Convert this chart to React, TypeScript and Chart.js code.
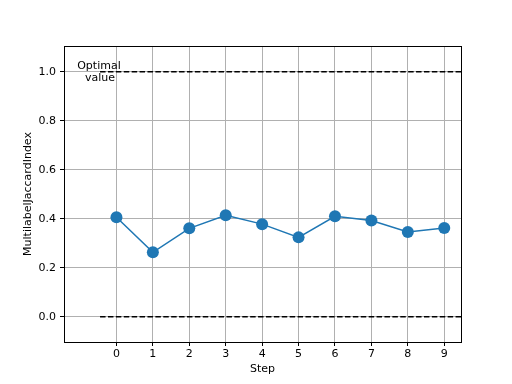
import React, { useEffect, useRef } from "react";
import { Chart, registerables } from "chart.js";

Chart.register(...registerables);

const steps = [0, 1, 2, 3, 4, 5, 6, 7, 8, 9];
const jaccard = [0.406, 0.263, 0.361, 0.414, 0.378, 0.324, 0.41, 0.393, 0.346, 0.362];
const yTicks = [0.0, 0.2, 0.4, 0.6, 0.8, 1.0];
const optimalValue = 1.0;
const baselineValue = 0.0;
const refLineStart = -0.45;
const refLineEnd = 9.6;
const optimalLabel = ["Optimal", "value"];
const xTitle = "Step";
const yTitle = "MultilabelJaccardIndex";

const FONT = "'DejaVu Sans', sans-serif";

export default function App() {
  const ref = useRef<HTMLCanvasElement | null>(null);

  useEffect(() => {
    if (!ref.current) return;
    const framePlugin = {
      id: "frame",
      afterDraw(chart: any) {
        const { ctx, chartArea: a } = chart;
        ctx.save();
        ctx.strokeStyle = "#000";
        ctx.lineWidth = 1;
        ctx.strokeRect(Math.round(a.left) + 0.5, Math.round(a.top) + 0.5, Math.round(a.right - a.left), Math.round(a.bottom - a.top));
        const xs = chart.scales.x;
        const ys = chart.scales.y;
        const px = xs.getPixelForValue(refLineStart - 0.03);
        const py = ys.getPixelForValue(optimalValue);
        ctx.fillStyle = "#000";
        ctx.font = `11px ${FONT}`;
        ctx.textAlign = "center";
        ctx.textBaseline = "middle";
        ctx.fillText(optimalLabel[0], px, py - 6);
        ctx.fillText(optimalLabel[1], px + 1, py + 6);
        ctx.restore();
      },
    };

    const chart = new Chart(ref.current, {
      type: "line",
      data: {
        datasets: [
          {
            data: [
              { x: refLineStart, y: optimalValue },
              { x: refLineEnd, y: optimalValue },
            ],
            borderColor: "#000",
            borderWidth: 1.5,
            borderDash: [5.5, 2.4],
            pointRadius: 0,
            order: 2,
          },
          {
            data: [
              { x: refLineStart, y: baselineValue },
              { x: refLineEnd, y: baselineValue },
            ],
            borderColor: "#000",
            borderWidth: 1.5,
            borderDash: [5.5, 2.4],
            pointRadius: 0,
            order: 2,
          },
          {
            data: steps.map((s, i) => ({ x: s, y: jaccard[i] })),
            borderColor: "#1f77b4",
            backgroundColor: "#1f77b4",
            borderWidth: 1.5,
            pointRadius: 6,
            pointBorderWidth: 0,
            pointBackgroundColor: "#1f77b4",
            order: 1,
          },
        ],
      },
      options: {
        responsive: false,
        animation: false,
        layout: { padding: { top: 46, right: 51, left: 0, bottom: 0 } },
        plugins: { legend: { display: false }, tooltip: { enabled: false } },
        scales: {
          x: {
            type: "linear",
            min: -1.44,
            max: 9.46,
            afterBuildTicks: (s: any) => {
              s.ticks = steps.map((v) => ({ value: v }));
            },
            afterFit: (s: any) => {
              s.height = 42;
            },
            grid: { color: "#b0b0b0", lineWidth: 1, tickColor: "#000", tickLength: 4, drawTicks: true },
            border: { display: false },
            ticks: {
              color: "#000",
              font: { family: FONT, size: 11 },
              padding: 2,
              maxRotation: 0,
              callback: (v: any) => String(v),
            },
            title: {
              display: true,
              text: xTitle,
              color: "#000",
              font: { family: FONT, size: 11 },
              padding: { top: 0, bottom: 8 },
            },
          },
          y: {
            type: "linear",
            min: -0.103,
            max: 1.105,
            afterBuildTicks: (s: any) => {
              s.ticks = yTicks.map((v) => ({ value: v }));
            },
            afterFit: (s: any) => {
              s.width = 64;
            },
            grid: { color: "#b0b0b0", lineWidth: 1, tickColor: "#000", tickLength: 4, drawTicks: true },
            border: { display: false },
            ticks: {
              color: "#000",
              font: { family: FONT, size: 11 },
              padding: 4,
              callback: (v: any) => Number(v).toFixed(1),
            },
            title: {
              display: true,
              text: yTitle,
              color: "#000",
              font: { family: FONT, size: 11 },
              padding: { top: 22, bottom: 0 },
            },
          },
        },
      },
      plugins: [framePlugin],
    });
    return () => chart.destroy();
  }, []);

  return (
    <div style={{ position: "fixed", left: 0, top: 0, width: 512, height: 384, background: "#fff" }}>
      <canvas ref={ref} width={512} height={384} style={{ display: "block" }} />
    </div>
  );
}
